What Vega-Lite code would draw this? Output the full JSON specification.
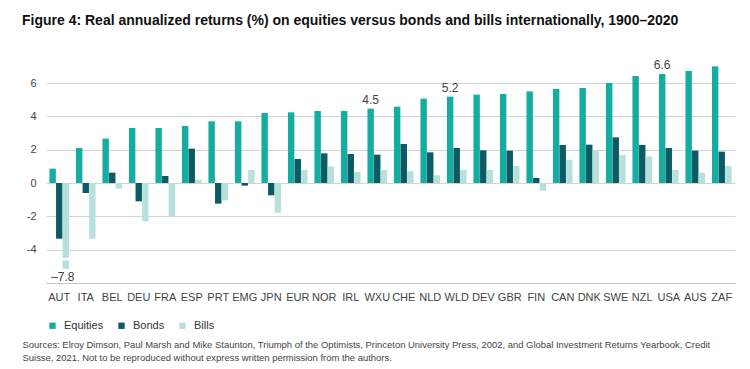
{
  "$schema": "https://vega.github.io/schema/vega-lite/v6.json",
  "width": 689,
  "height": 220,
  "autosize": {"type": "none"},
  "padding": {"left": 46, "top": 63, "right": 15, "bottom": 86},
  "background": "white",
  "config": {"view": {"stroke": null}, "font": "Liberation Sans"},
  "title": {
    "text": "Figure 4: Real annualized returns (%) on equities versus bonds and bills internationally, 1900–2020",
    "anchor": "start", "frame": "group", "dx": -24, "offset": 20, "baseline": "alphabetic",
    "fontSize": 14, "fontWeight": "bold", "color": "#111", "font": "Liberation Sans"
  },
  "datasets": {
    "returns": [
      {"country": "AUT", "series": "Equities", "value": 0.86},
      {"country": "AUT", "series": "Bonds", "value": -3.34},
      {"country": "AUT", "series": "Bills", "value": -7.8},
      {"country": "ITA", "series": "Equities", "value": 2.1},
      {"country": "ITA", "series": "Bonds", "value": -0.6},
      {"country": "ITA", "series": "Bills", "value": -3.34},
      {"country": "BEL", "series": "Equities", "value": 2.66},
      {"country": "BEL", "series": "Bonds", "value": 0.62},
      {"country": "BEL", "series": "Bills", "value": -0.34},
      {"country": "DEU", "series": "Equities", "value": 3.3},
      {"country": "DEU", "series": "Bonds", "value": -1.1},
      {"country": "DEU", "series": "Bills", "value": -2.3},
      {"country": "FRA", "series": "Equities", "value": 3.3},
      {"country": "FRA", "series": "Bonds", "value": 0.42},
      {"country": "FRA", "series": "Bills", "value": -2.0},
      {"country": "ESP", "series": "Equities", "value": 3.42},
      {"country": "ESP", "series": "Bonds", "value": 2.06},
      {"country": "ESP", "series": "Bills", "value": 0.2},
      {"country": "PRT", "series": "Equities", "value": 3.7},
      {"country": "PRT", "series": "Bonds", "value": -1.24},
      {"country": "PRT", "series": "Bills", "value": -1.04},
      {"country": "EMG", "series": "Equities", "value": 3.7},
      {"country": "EMG", "series": "Bonds", "value": -0.16},
      {"country": "EMG", "series": "Bills", "value": 0.78},
      {"country": "JPN", "series": "Equities", "value": 4.2},
      {"country": "JPN", "series": "Bonds", "value": -0.74},
      {"country": "JPN", "series": "Bills", "value": -1.78},
      {"country": "EUR", "series": "Equities", "value": 4.24},
      {"country": "EUR", "series": "Bonds", "value": 1.44},
      {"country": "EUR", "series": "Bills", "value": 0.78},
      {"country": "NOR", "series": "Equities", "value": 4.32},
      {"country": "NOR", "series": "Bonds", "value": 1.78},
      {"country": "NOR", "series": "Bills", "value": 1.0},
      {"country": "IRL", "series": "Equities", "value": 4.32},
      {"country": "IRL", "series": "Bonds", "value": 1.74},
      {"country": "IRL", "series": "Bills", "value": 0.66},
      {"country": "WXU", "series": "Equities", "value": 4.46, "label": "4.5"},
      {"country": "WXU", "series": "Bonds", "value": 1.7},
      {"country": "WXU", "series": "Bills", "value": 0.78},
      {"country": "CHE", "series": "Equities", "value": 4.58},
      {"country": "CHE", "series": "Bonds", "value": 2.34},
      {"country": "CHE", "series": "Bills", "value": 0.7},
      {"country": "NLD", "series": "Equities", "value": 5.06},
      {"country": "NLD", "series": "Bonds", "value": 1.84},
      {"country": "NLD", "series": "Bills", "value": 0.46},
      {"country": "WLD", "series": "Equities", "value": 5.18, "label": "5.2"},
      {"country": "WLD", "series": "Bonds", "value": 2.1},
      {"country": "WLD", "series": "Bills", "value": 0.78},
      {"country": "DEV", "series": "Equities", "value": 5.3},
      {"country": "DEV", "series": "Bonds", "value": 1.96},
      {"country": "DEV", "series": "Bills", "value": 0.78},
      {"country": "GBR", "series": "Equities", "value": 5.34},
      {"country": "GBR", "series": "Bonds", "value": 1.94},
      {"country": "GBR", "series": "Bills", "value": 1.02},
      {"country": "FIN", "series": "Equities", "value": 5.5},
      {"country": "FIN", "series": "Bonds", "value": 0.3},
      {"country": "FIN", "series": "Bills", "value": -0.46},
      {"country": "CAN", "series": "Equities", "value": 5.64},
      {"country": "CAN", "series": "Bonds", "value": 2.28},
      {"country": "CAN", "series": "Bills", "value": 1.4},
      {"country": "DNK", "series": "Equities", "value": 5.7},
      {"country": "DNK", "series": "Bonds", "value": 2.3},
      {"country": "DNK", "series": "Bills", "value": 1.96},
      {"country": "SWE", "series": "Equities", "value": 6.0},
      {"country": "SWE", "series": "Bonds", "value": 2.74},
      {"country": "SWE", "series": "Bills", "value": 1.68},
      {"country": "NZL", "series": "Equities", "value": 6.42},
      {"country": "NZL", "series": "Bonds", "value": 2.28},
      {"country": "NZL", "series": "Bills", "value": 1.6},
      {"country": "USA", "series": "Equities", "value": 6.54, "label": "6.6"},
      {"country": "USA", "series": "Bonds", "value": 2.1},
      {"country": "USA", "series": "Bills", "value": 0.78},
      {"country": "AUS", "series": "Equities", "value": 6.72},
      {"country": "AUS", "series": "Bonds", "value": 1.94},
      {"country": "AUS", "series": "Bills", "value": 0.62},
      {"country": "ZAF", "series": "Equities", "value": 7.0},
      {"country": "ZAF", "series": "Bonds", "value": 1.88},
      {"country": "ZAF", "series": "Bills", "value": 1.02}
    ],
    "broken": [
      {"country": "AUT", "series": "Bills", "value": -7.8, "shown_to": -5.15, "gap_from": -4.5, "gap_to": -4.66, "label": "–7.8"}
    ]
  },
  "encoding": {
    "x": {
      "field": "country", "type": "nominal",
      "sort": ["AUT","ITA","BEL","DEU","FRA","ESP","PRT","EMG","JPN","EUR","NOR","IRL","WXU","CHE","NLD","WLD","DEV","GBR","FIN","CAN","DNK","SWE","NZL","USA","AUS","ZAF"],
      "scale": {"paddingInner": 0.26, "paddingOuter": 0.13},
      "axis": {
        "labelAngle": 0, "ticks": false, "domain": true, "domainColor": "#c4c4c4",
        "labelPadding": 8, "labelFontSize": 11, "labelColor": "#444", "labelFont": "Liberation Sans",
        "title": ["Sources: Elroy Dimson, Paul Marsh and Mike Staunton, Triumph of the Optimists, Princeton University Press, 2002, and Global Investment Returns Yearbook, Credit", "Suisse, 2021. Not to be reproduced without express written permission from the authors."],
        "titleAnchor": "start", "titleAlign": "left", "titleX": -24, "titleY": 57, "titleBaseline": "top",
        "titleFontSize": 9.45, "titleFontWeight": "normal", "titleColor": "#444", "titleLineHeight": 13, "titleFont": "Liberation Sans"
      }
    },
    "xOffset": {"field": "series", "type": "nominal", "sort": ["Equities", "Bonds", "Bills"], "scale": {"paddingInner": 0.03}}
  },
  "layer": [
    {
      "data": {"name": "returns"},
      "transform": [{"filter": "datum.value > -6"}],
      "mark": {"type": "bar"},
      "encoding": {
        "y": {
          "field": "value", "type": "quantitative",
          "scale": {"domain": [-6, 7.2], "nice": false, "zero": false},
          "axis": {
            "values": [-4, -2, 0, 2, 4, 6], "labelExpr": "'' + datum.value", "title": null,
            "domain": false, "ticks": false, "grid": true, "gridColor": "#d4d4d4",
            "labelPadding": 10, "labelFontSize": 11, "labelColor": "#444", "labelFont": "Liberation Sans"
          }
        },
        "color": {
          "field": "series", "type": "nominal",
          "scale": {"domain": ["Equities", "Bonds", "Bills"], "range": ["#13ada1", "#0b5a64", "#b5e0dc"]},
          "legend": {
            "orient": "none", "legendX": 1, "legendY": 257, "direction": "horizontal", "title": null,
            "symbolType": "square", "symbolSize": 40, "symbolStrokeWidth": 0, "columnPadding": 12,
            "labelFontSize": 11, "labelColor": "#333", "labelFont": "Liberation Sans", "labelOffset": 6
          }
        }
      }
    },
    {
      "data": {"name": "broken"},
      "mark": {"type": "bar", "color": "#b5e0dc"},
      "encoding": {"y": {"field": "shown_to", "type": "quantitative"}}
    },
    {
      "data": {"name": "broken"},
      "mark": {"type": "bar", "color": "white"},
      "encoding": {"y": {"field": "gap_from", "type": "quantitative"}, "y2": {"field": "gap_to"}}
    },
    {
      "data": {"name": "returns"},
      "transform": [{"filter": "datum.label"}],
      "mark": {"type": "text", "baseline": "alphabetic", "dy": -5, "fontSize": 12, "color": "#444", "font": "Liberation Sans"},
      "encoding": {"y": {"field": "value", "type": "quantitative"}, "text": {"field": "label"}}
    },
    {
      "data": {"name": "broken"},
      "mark": {"type": "text", "baseline": "top", "dy": 3, "dx": -3, "fontSize": 12, "color": "#444", "font": "Liberation Sans"},
      "encoding": {"y": {"field": "shown_to", "type": "quantitative"}, "text": {"field": "label"}}
    }
  ]
}
